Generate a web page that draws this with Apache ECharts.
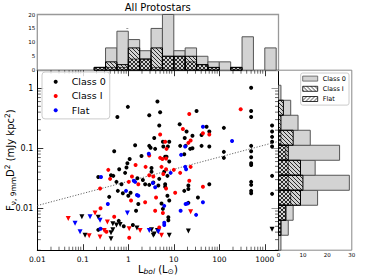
<!DOCTYPE html>
<html><head><meta charset="utf-8">
<script src="https://cdn.jsdelivr.net/npm/echarts@6/dist/echarts.min.js"></script>
<style>html,body{margin:0;padding:0;background:#fff}#c{width:372px;height:279px}</style>
</head><body><div id="c"></div>
<script>
// ---- data (log10 values) ----
const class0LogL = [-0.01,-0.24,0.64,0.46,0.70,0.68,0.57,0.15,0.46,0.49,0.59,-0.31,0.29,0.03,-0.02,0.76,0.90,0.87,0.77,0.81,0.84,0.90,1.13,1.28,1.50,1.41,1.24,1.14,1.26,1.36,1.41,1.23,1.72,1.61,1.78,1.61,1.78,2.10,2.10,2.10,2.70,2.70,2.70,2.70,2.70,2.70,2.70,3.16,3.16,3.16,3.16,3.16,2.70,2.70,2.70,2.70,2.70,3.16,3.16,1.78,0.79,0.86,0.51,0.51,0.68,0.55,0.81,0.81,0.66,1.32,1.32,1.23,0.86,0.90,0.73,1.53,1.32,0.76,0.88,0.88,-0.20,-0.38,-0.33,-0.07,-0.04,0.20,0.37,0.32,-0.26,-0.15,0.46,-0.23,-0.12,0.05,0.00,-0.42,0.22,0.17,-0.21,-0.10,0.10,-0.66,-0.66];
const class0LogF = [-0.31,-0.48,-0.22,-0.45,-0.40,-0.62,-0.83,-0.95,-0.96,-0.99,-1.01,-1.05,-1.13,-1.18,-1.25,-0.89,-0.89,-0.97,-0.97,-1.14,-1.14,-1.22,-0.60,-0.72,-0.38,-0.79,-0.83,-0.96,-0.96,-1.01,-1.00,-1.10,-0.64,-0.78,-0.72,-0.96,-0.97,-0.66,-1.06,-1.16,0.01,-0.38,-0.48,-0.96,-1.05,-1.15,-1.25,-0.62,-0.72,-0.81,-0.89,-0.97,-1.28,-1.56,-1.61,-1.71,-1.75,-1.46,-1.76,-1.60,-1.39,-1.46,-1.33,-1.39,-1.51,-1.57,-1.60,-1.64,-1.62,-1.62,-1.68,-1.71,-1.79,-1.87,-1.92,-1.82,-1.91,-2.01,-2.15,-2.20,-1.35,-1.45,-1.46,-1.41,-1.32,-1.50,-1.60,-1.53,-1.56,-1.60,-1.61,-1.71,-1.75,-1.74,-1.79,-1.81,-1.93,-2.04,-2.21,-2.30,-2.28,-2.36,-1.48];
const class0LimLogL = [-1.02,-0.66,-0.34,-0.26,-0.18,0.19,-0.38,-0.34,-0.95,-0.38,0.57,0.64,0.51,0.55,0.90,1.32,3.16];
const class0LimLogF = [-2.14,-2.15,-2.26,-2.28,-2.27,-2.33,-2.41,-2.36,-2.45,-2.51,-2.43,-2.37,-2.36,-2.45,-2.45,-2.38,-2.35];
const classILogL = [0.70,0.46,0.81,0.84,0.70,0.75,0.83,1.20,1.34,1.37,1.32,1.64,1.78,2.47,1.64,1.34,0.73,0.83,0.77,0.55,1.37,1.14,1.00,0.83,1.03,0.61,0.59,0.76,0.68,0.16,-0.44,-0.40,0.38,0.46,0.08,0.01,0.22,-0.62,0.06,0.37,-0.61,-0.31,-0.48,0.02];
const classILogF = [-0.77,-1.12,-0.89,-1.01,-1.16,-1.18,-1.17,-0.68,-0.43,-0.87,-0.91,-0.75,-0.77,-0.35,-1.64,-1.54,-1.31,-1.35,-1.43,-1.47,-1.31,-1.41,-1.36,-1.67,-1.74,-1.82,-2.04,-2.08,-2.32,-1.28,-1.36,-1.51,-1.31,-1.45,-1.47,-1.56,-1.60,-1.67,-1.87,-1.90,-2.00,-2.14,-2.39,-2.49];
const classILimLogL = [-1.32,-0.73,-0.46,0.02,-0.53,-0.86,-0.62,0.26,0.73,1.37];
const classILimLogF = [-2.17,-2.08,-2.23,-2.34,-2.37,-2.46,-2.48,-2.37,-2.45,-2.06];
const flatLogL = [0.45,1.16,1.25,1.64,2.28,1.25,1.27,0.93,0.59,0.79,1.26,1.30,1.64,1.15,1.49,0.79,0.79,-0.60,0.12,0.15,0.54,-0.05,0.19,0.22,-0.45,-0.61];
const flatLogF = [-1.09,-1.11,-0.97,-0.64,-0.88,-1.31,-1.35,-1.41,-1.65,-1.96,-1.93,-1.92,-1.90,-2.04,-2.11,-2.24,-2.28,-1.48,-1.54,-1.56,-1.58,-1.71,-1.78,-1.79,-1.93,-2.34];
const flatLimLogL = [-0.84,-0.62,-1.17,-0.02,-1.06,0.46,0.66];
const flatLimLogF = [-2.14,-2.20,-2.25,-2.08,-2.39,-2.37,-2.39];
const trendLogL = [-2, 3.301];
const trendLogF = [-1.955, -0.885];

// histogram of log L_bol (top)
const lbolBinEdges = [-0.75,-0.5,-0.25,0,0.25,0.5,0.75,1.0,1.25,1.5,1.75,2.0,2.25,2.5,2.75,3.0,3.25];
const lbolHistClass0 = [1,8,14,11,7,15,20,7,8,5,3,3,1,12,0,8];
const lbolHistClassI = [1,3,2,8,4,8,5,5,5,2,1,0,1,0,0,0];
const lbolHistFlat   = [1,1,1,4,4,1,5,5,3,2,1,0,1,0,0,0];
// histogram of log flux (right)
const fluxBinEdges = [-2.7,-2.45,-2.2,-1.95,-1.7,-1.45,-1.2,-0.95,-0.7,-0.45,-0.2,0.05];
const fluxHistClass0 = [1,4,6,16,29,15,25,13,8,5,1];
const fluxHistClassI = [0,1,3,9,10,9,4,6,1,2,0];
const fluxHistFlat   = [0,1,3,5,4,4,3,1,0,0,0];

// tick positions (log10): labels 0.01 … 1000 and 0.01 … 1
const xTickLogs = [-2, -1, 0, 1, 2, 3];
const yTickLogs = [-2, -1, 0];

const X_MIN = -2, X_MAX = 3.301, Y_MIN = -2.699, Y_MAX = 0.301;
const minorFactors = [2,3,4,5,6,7,8,9];
const FONT = 'DejaVu Sans';

function zip(a, b) { return a.map((v, i) => [v, b[i]]); }
function pow10Label(v) {
  const r = Math.round(Number(v));
  if (Math.abs(Number(v) - r) > 1e-6) return '';
  return String(Number(Math.pow(10, r).toPrecision(1)));
}
function hatch(dir) {
  const s = 4, c = document.createElement('canvas');
  c.width = s; c.height = s;
  const g = c.getContext('2d');
  g.strokeStyle = '#000'; g.lineWidth = 0.8; g.beginPath();
  if (dir === '/') {
    g.moveTo(0, s); g.lineTo(s, 0); g.moveTo(-1, 1); g.lineTo(1, -1); g.moveTo(s - 1, s + 1); g.lineTo(s + 1, s - 1);
  } else {
    g.moveTo(0, 0); g.lineTo(s, s); g.moveTo(-1, s - 1); g.lineTo(1, s + 1); g.moveTo(s - 1, -1); g.lineTo(s + 1, 1);
  }
  g.stroke();
  return c;
}
const backHatch = { image: hatch('\\'), repeat: 'repeat' };
const fwdHatch = { image: hatch('/'), repeat: 'repeat' };

const styles = {
  c0: { fill: '#d3d3d3', stroke: '#555', lineWidth: 1 },
  cI: { fill: backHatch, stroke: '#000', lineWidth: 1 },
  fl: { fill: fwdHatch, stroke: '#000', lineWidth: 0.6 }
};

function topHist(name, counts, st) {
  return {
    type: 'custom', name, coordinateSystem: 'cartesian2d', xAxisIndex: 2, yAxisIndex: 2,
    silent: true, clip: false,
    data: counts.map((c, i) => [lbolBinEdges[i], lbolBinEdges[i + 1], c]),
    encode: { x: [0, 1], y: 2 },
    itemStyle: { color: st.fill, borderColor: st.stroke },
    renderItem(params, api) {
      const c = api.value(2);
      if (!c) return;
      const p0 = api.coord([api.value(0), 0]);
      const p1 = api.coord([api.value(1), c]);
      return { type: 'rect', shape: { x: p0[0], y: p1[1], width: p1[0] - p0[0], height: p0[1] - p1[1] },
        style: { fill: st.fill, stroke: st.stroke, lineWidth: st.lineWidth } };
    }
  };
}
function rightHist(name, counts, st) {
  return {
    type: 'custom', name, coordinateSystem: 'cartesian2d', xAxisIndex: 3, yAxisIndex: 3,
    silent: true, clip: false,
    data: counts.map((c, i) => [c, fluxBinEdges[i], fluxBinEdges[i + 1]]),
    encode: { x: 0, y: [1, 2] },
    itemStyle: { color: st.fill, borderColor: st.stroke },
    renderItem(params, api) {
      const c = api.value(0);
      if (!c) return;
      const p0 = api.coord([0, api.value(1)]);
      const p1 = api.coord([c, api.value(2)]);
      return { type: 'rect', shape: { x: p0[0], y: p1[1], width: p1[0] - p0[0], height: p0[1] - p1[1] },
        style: { fill: st.fill, stroke: st.stroke, lineWidth: st.lineWidth } };
    }
  };
}
function scatter(name, xs, ys, color, tri) {
  return {
    type: 'scatter', name, xAxisIndex: 0, yAxisIndex: 0, data: zip(xs, ys),
    symbol: tri ? 'triangle' : 'circle', symbolRotate: tri ? 180 : 0, symbolSize: tri ? 5 : 4,
    itemStyle: { color, opacity: 1 }, silent: true, z: 3
  };
}

const chart = echarts.init(document.getElementById('c'), null, { renderer: 'svg' });
const axisTxt = { fontFamily: FONT, color: '#000' };
const majorTick = { inside: true, length: 6, lineStyle: { color: '#000', width: 0.8 } };
const gridBase = { containLabel: false, outerBoundsMode: 'none' };
chart.setOption({
  animation: false,
  textStyle: { fontFamily: FONT },
  title: { text: 'All Protostars', left: 157.8, top: 2, padding: 0, textAlign: 'center',
    textStyle: { fontSize: 10, fontWeight: 'normal', fontFamily: FONT, color: '#000' } },
  grid: [
    { ...gridBase, left: 37.3, top: 70.2, width: 241.2, height: 180 },
    { ...gridBase, left: 37.3, top: 14.5, width: 241.2, height: 55.7, show: true, borderColor: '#999', borderWidth: 1.3 },
    { ...gridBase, left: 278.5, top: 70.2, width: 73.3, height: 180, show: true, borderColor: '#888', borderWidth: 1 }
  ],
  xAxis: [
    { type: 'value', gridIndex: 0, min: X_MIN, max: X_MAX, interval: 1, position: 'bottom',
      name: '{a|L}{s|bol}{a| (L}{t|⊙}{a|)}', nameLocation: 'middle', nameGap: 13, nameMoveOverlap: false,
      nameTextStyle: { rich: { a: { fontSize: 10, fontFamily: FONT, color: '#000' },
        s: { fontSize: 7.5, fontStyle: 'italic', fontFamily: FONT, color: '#000', padding: [4, 0, 0, 0] },
        t: { fontSize: 7.5, fontFamily: FONT, color: '#000', padding: [4, 0, 0, 0] } } },
      axisLine: { show: true, onZero: false, lineStyle: { color: '#000', width: 1 } },
      axisTick: { ...majorTick, customValues: xTickLogs },
      axisLabel: { formatter: pow10Label, customValues: xTickLogs, fontSize: 7.5, margin: 5, hideOverlap: false, ...axisTxt },
      splitLine: { show: false } },
    { type: 'value', gridIndex: 0, min: X_MIN, max: X_MAX, interval: 1, position: 'top',
      axisLine: { show: true, onZero: false, lineStyle: { color: '#999', width: 1.3 } },
      axisTick: { ...majorTick, customValues: xTickLogs },
      axisLabel: { show: false }, splitLine: { show: false } },
    { type: 'value', gridIndex: 1, min: X_MIN, max: X_MAX, show: false, splitLine: { show: false } },
    { type: 'value', gridIndex: 2, min: 0, max: 30, interval: 10,
      axisLine: { show: false }, axisTick: { show: false },
      axisLabel: { fontSize: 5.5, margin: 1.5, ...axisTxt }, splitLine: { show: false } }
  ],
  yAxis: [
    { type: 'value', gridIndex: 0, min: Y_MIN, max: Y_MAX, position: 'left',
      name: '{a|F}{s|ν, 9mm}{a|D}{p|2}{a| (mJy kpc}{p|2}{a|)}', nameLocation: 'middle', nameRotate: 90, nameGap: 20, nameMoveOverlap: false,
      nameTextStyle: { rich: { a: { fontSize: 10, fontFamily: FONT, color: '#000' },
        s: { fontSize: 7.5, fontFamily: FONT, color: '#000', padding: [6, 0, 0, 0] },
        p: { fontSize: 7.5, fontFamily: FONT, color: '#000', padding: [0, 0, 6, 0] } } },
      axisLine: { show: true, onZero: false, lineStyle: { color: '#000', width: 1 } },
      axisTick: { ...majorTick, customValues: yTickLogs },
      axisLabel: { show: false },
      splitLine: { show: false } },
    { type: 'value', gridIndex: 0, min: Y_MIN, max: Y_MAX, position: 'right',
      axisLine: { show: true, onZero: false, lineStyle: { color: '#000', width: 1 } },
      axisTick: { ...majorTick, customValues: yTickLogs },
      axisLabel: { show: false }, splitLine: { show: false } },
    { type: 'value', gridIndex: 1, min: 0, max: 20, interval: 5,
      axisLine: { show: false }, axisTick: { show: true, length: 2, lineStyle: { color: '#999' } },
      axisLabel: { fontSize: 5.5, margin: 2, ...axisTxt }, splitLine: { show: false } },
    { type: 'value', gridIndex: 2, min: Y_MIN, max: Y_MAX, position: 'left',
      axisLine: { show: false },
      axisTick: { show: true, length: 7, lineStyle: { color: '#999', width: 1 }, customValues: yTickLogs },
      axisLabel: { show: false }, splitLine: { show: false } }
  ],
  legend: [
    { data: [{ name: 'Class 0' }, { name: 'Class I' }, { name: 'Flat' }], selectedMode: false,
      orient: 'vertical', left: 42, top: 72, icon: 'circle', itemWidth: 4, itemHeight: 4, itemGap: 0,
      padding: [2.5, 4, 1.5, 11.7], borderColor: '#ccc', borderWidth: 1, borderRadius: 3,
      backgroundColor: 'rgba(255,255,255,0.8)',
      textStyle: { fontSize: 9.5, lineHeight: 14.3, padding: [0, 0, 0, 9], fontFamily: FONT, color: '#000' } },
    { data: [
        { name: 'Class 0 hist', itemStyle: { color: '#d3d3d3', borderColor: '#555', borderWidth: 0.8 } },
        { name: 'Class I hist', itemStyle: { color: backHatch, borderColor: '#000', borderWidth: 0.8 } },
        { name: 'Flat hist', itemStyle: { color: fwdHatch, borderColor: '#000', borderWidth: 0.8 } }],
      formatter: n => n.replace(' hist', ''), selectedMode: false,
      orient: 'vertical', left: 300.7, top: 73, icon: 'rect', itemWidth: 15, itemHeight: 5, itemGap: 0,
      padding: [0.5, 3, 1, 1.6], borderColor: '#ccc', borderWidth: 1, borderRadius: 2,
      backgroundColor: 'rgba(255,255,255,0.8)',
      textStyle: { fontSize: 6.5, lineHeight: 10.2, fontFamily: FONT, color: '#000' } }
  ],
  series: [
    topHist('Class 0 hist', lbolHistClass0, styles.c0),
    topHist('Class I hist', lbolHistClassI, styles.cI),
    topHist('Flat hist', lbolHistFlat, styles.fl),
    rightHist('Class 0 hist', fluxHistClass0, styles.c0),
    rightHist('Class I hist', fluxHistClassI, styles.cI),
    rightHist('Flat hist', fluxHistFlat, styles.fl),
    { type: 'line', name: 'trend', xAxisIndex: 0, yAxisIndex: 0, data: zip(trendLogL, trendLogF),
      symbol: 'none', silent: true, lineStyle: { color: '#555', width: 0.9, type: [1.2, 1.6] }, z: 2 },
    { type: 'custom', name: 'y tick labels', coordinateSystem: 'cartesian2d', xAxisIndex: 0, yAxisIndex: 0,
      silent: true, clip: false, z: 50, data: yTickLogs.map(v => [X_MIN, v]),
      renderItem(params, api) {
        const p = api.coord([api.value(0), api.value(1)]);
        return { type: 'text', x: p[0] - 4, y: p[1],
          style: { text: pow10Label(api.value(1)), fontSize: 8, fontFamily: FONT, fill: '#000',
            align: 'right', verticalAlign: 'middle', textAlign: 'right', textVerticalAlign: 'middle' } };
      } },
    { type: 'custom', name: 'minor ticks', coordinateSystem: 'cartesian2d', xAxisIndex: 0, yAxisIndex: 0,
      silent: true, clip: false, data: [[X_MIN, Y_MIN]],
      renderItem(params, api) {
        const children = [];
        const lb = api.coord([X_MIN, Y_MIN]), rt = api.coord([X_MAX, Y_MAX]);
        const ln = (x1, y1, x2, y2) => ({ type: 'line', shape: { x1, y1, x2, y2 }, style: { stroke: '#000', lineWidth: 0.6 } });
        for (let n = -3; n <= 3; n++) {
          for (const k of minorFactors) {
            const v = n + Math.log10(k);
            if (v > X_MIN && v < X_MAX) {
              const x = api.coord([v, Y_MIN])[0];
              children.push(ln(x, lb[1], x, lb[1] - 3.5), ln(x, rt[1], x, rt[1] + 3.5));
            }
            if (v > Y_MIN && v < Y_MAX) {
              const y = api.coord([X_MIN, v])[1];
              children.push(ln(lb[0], y, lb[0] + 3.5, y), ln(rt[0], y, rt[0] - 3.5, y));
            }
          }
        }
        return { type: 'group', children };
      } },
    scatter('Class 0', class0LogL, class0LogF, '#000000', false),
    scatter('Class 0 limits', class0LimLogL, class0LimLogF, '#000000', true),
    scatter('Class I', classILogL, classILogF, '#ff0000', false),
    scatter('Class I limits', classILimLogL, classILimLogF, '#ff0000', true),
    scatter('Flat', flatLogL, flatLogF, '#0000ff', false),
    scatter('Flat limits', flatLimLogL, flatLimLogF, '#0000ff', true)
  ]
});
</script></body></html>
